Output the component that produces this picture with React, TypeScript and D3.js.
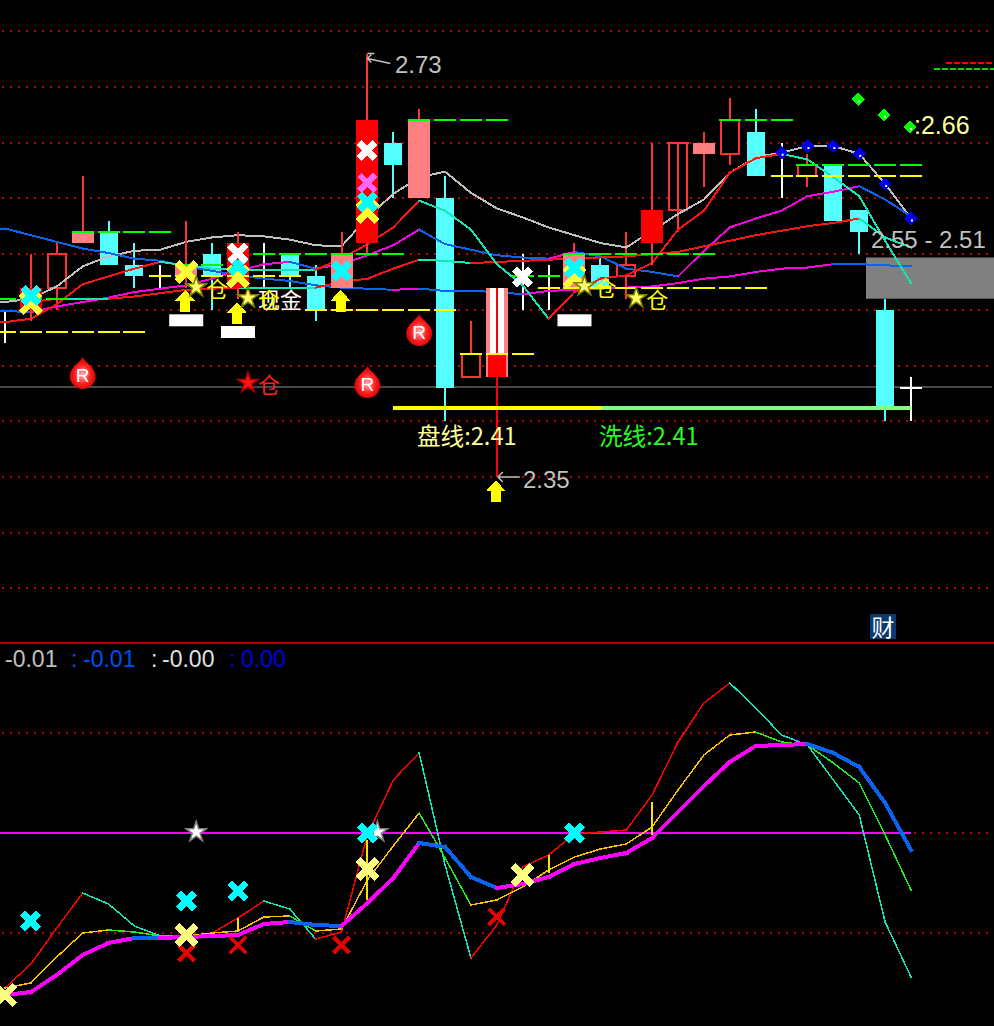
import * as d3 from "d3";

const width = 994;
const height = 1026;

// 上图: K线
const candleKinds = [
  "doji", "solid", "hollow", "pale", "cyan", "cyan", "doji", "pale", "cyan", "solid", "doji", "cyan",
  "cyan", "pale", "solid", "cyan", "pale", "cyan", "hollow", "pale", "doji", "doji", "pale", "cyan",
  "hollow", "solid", "hollow", "pale", "hollow", "cyan", "doji", "hollow", "cyan", "cyan", "cyan", "doji",
];
const candleTop = [
  2.48, 2.52, 2.55, 2.57, 2.57, 2.54, 2.53, 2.54, 2.55, 2.56, 2.53, 2.55,
  2.53, 2.55, 2.67, 2.65, 2.67, 2.6, 2.46, 2.52, 2.53, 2.52, 2.55, 2.54,
  2.54, 2.59, 2.65, 2.65, 2.67, 2.66, 2.62, 2.63, 2.63, 2.59, 2.5, 2.43,
];
const candleBottom = [
  2.48, 2.5, 2.52, 2.56, 2.54, 2.53, 2.53, 2.53, 2.53, 2.52, 2.53, 2.53,
  2.5, 2.52, 2.56, 2.63, 2.6, 2.43, 2.44, 2.44, 2.53, 2.52, 2.52, 2.52,
  2.53, 2.56, 2.59, 2.64, 2.64, 2.62, 2.62, 2.62, 2.58, 2.57, 2.41, 2.43,
];
const candleHigh = [
  2.5, 2.55, 2.56, 2.62, 2.58, 2.56, 2.54, 2.58, 2.56, 2.57, 2.56, 2.55,
  2.54, 2.57, 2.73, 2.66, 2.68, 2.62, 2.49, 2.52, 2.55, 2.54, 2.56, 2.55,
  2.57, 2.65, 2.65, 2.66, 2.69, 2.68, 2.65, 2.64, 2.63, 2.59, 2.51, 2.44,
];
const candleLow = [
  2.47, 2.49, 2.5, 2.56, 2.54, 2.52, 2.52, 2.52, 2.5, 2.51, 2.52, 2.52,
  2.49, 2.52, 2.55, 2.6, 2.6, 2.4, 2.44, 2.35, 2.5, 2.5, 2.52, 2.52,
  2.51, 2.54, 2.57, 2.61, 2.63, 2.62, 2.6, 2.61, 2.58, 2.55, 2.4, 2.4,
];

// 均线
const lineA = [
  2.507, 2.51, 2.521, 2.539, 2.548, 2.553, 2.554, 2.561, 2.565, 2.567, 2.566, 2.563,
  2.558, 2.557, 2.583, 2.604, 2.619, 2.624, 2.605, 2.591, 2.583, 2.574, 2.567, 2.56,
  2.556, 2.571, 2.586, 2.599, 2.623, 2.637, 2.641, 2.647, 2.647, 2.64, 2.613, 2.582,
];
const lineB = [
  2.489, 2.492, 2.505, 2.523, 2.53, 2.537, 2.543, 2.54, 2.537, 2.536, 2.536, 2.536,
  2.536, 2.546, 2.559, 2.574, 2.598, 2.589, 2.572, 2.541, 2.522, 2.492, 2.516, 2.528,
  2.531, 2.542, 2.572, 2.589, 2.623, 2.636, 2.64, 2.635, 2.619, 2.602, 2.562, 2.524,
];
const lineC: (number | null)[] = [
  null, 2.507, 2.51, 2.51, 2.51, 2.512, 2.515, 2.518, 2.519, 2.52, 2.52, 2.52,
  2.52, 2.525, 2.528, 2.537, 2.545, 2.544, 2.542, 2.543, 2.544, 2.545, 2.546, 2.547,
  2.548, 2.55, 2.552, 2.557, 2.562, 2.567, 2.571, 2.575, 2.578, 2.582, 2.565, 2.556,
];
const lineD = [
  2.573, 2.567, 2.561, 2.555, 2.551, 2.546, 2.544, 2.539, 2.535, 2.531, 2.528, 2.526,
  2.522, 2.52, 2.519, 2.518, 2.519, 2.517, 2.517, 2.516, 2.514, 2.517, 2.518, 2.519,
  2.52, 2.521, 2.524, 2.528, 2.53, 2.534, 2.537, 2.538, 2.541, 2.541, 2.54, 2.539,
];
const lineF = [
  2.499, 2.498, 2.503, 2.507, 2.511, 2.516, 2.519, 2.522, 2.528, 2.535, 2.541, 2.543,
  2.537, 2.541, 2.549, 2.558, 2.572, 2.559, 2.554, 2.549, 2.547, 2.546, 2.552, 2.548,
  2.537, 2.534, 2.53, 2.553, 2.574, 2.582, 2.589, 2.602, 2.606, 2.611, 2.599, 2.584,
];

// 压力/支撑虚线: [价位, 起, 止]
const greenLevels = [
  [2.51, 0, 2], [2.57, 3, 6], [2.54, 7, 8], [2.55, 10, 15], [2.67, 16, 19],
  [2.53, 20, 21], [2.55, 22, 27], [2.67, 28, 30], [2.63, 31, 35],
];
const yellowLevels = [
  [2.48, 0, 5], [2.53, 6, 11], [2.5, 12, 17], [2.46, 18, 20], [2.52, 21, 29], [2.62, 30, 35],
];

const priceTicks = [2.75, 2.7, 2.65, 2.6, 2.55, 2.5, 2.45, 2.4, 2.35, 2.3, 2.25];
const prevClose = 2.431;
const zoneTop = 2.547;
const zoneBottom = 2.51;
const basePrice = 2.412;

const xYellow = [[1, 2.506], [7, 2.534], [9, 2.53], [14, 2.588], [22, 2.5295]];
const xCyan = [[1, 2.513], [9, 2.54], [13, 2.535], [14, 2.597], [22, 2.5375]];
const xWhite = [[9, 2.551], [14, 2.643], [20, 2.5295]];
const xPink = [[14, 2.614]];
const upArrows = [[7, 2.518], [9, 2.507], [13, 2.518], [19, 2.347]];
const whiteBars = [[7, 2.496], [9, 2.4855], [22, 2.496]];
const yellowStars = [[7, 2.5205], [9, 2.5106], [22, 2.5214], [24, 2.5106]];
const drops = [[3, 2.4424], [14, 2.4344], [16, 2.481]];
const greenDots = [[33, 2.689], [34, 2.675], [35, 2.664]];
const blueDotStart = 30;

// 副图
const oscTicks = [0.01, -0.01];
const oscFast = [
  -0.0155, -0.0131, -0.0095, -0.006, -0.0071, -0.0093, -0.0103, -0.0103, -0.01, -0.0085, -0.0068, -0.0076,
  -0.0106, -0.0099, -0.0002, 0.0053, 0.008, -0.0032, -0.0125, -0.0092, -0.0034, -0.0022, -0.0001, 0.0001,
  0.0003, 0.0038, 0.0091, 0.013, 0.015, 0.0125, 0.0098, 0.0088, 0.0053, 0.0018, -0.0089, -0.0144,
];
const oscMid = [
  -0.0155, -0.015, -0.0124, -0.01, -0.0097, -0.0099, -0.0103, -0.0103, -0.01, -0.0098, -0.0084, -0.0083,
  -0.0098, -0.0096, -0.0047, -0.0013, 0.002, -0.0025, -0.0072, -0.0067, -0.0054, -0.0037, -0.0024, -0.0016,
  -0.0011, 0.0006, 0.0043, 0.0078, 0.0098, 0.0101, 0.0091, 0.0088, 0.007, 0.005, -0.0002, -0.0057,
];
const oscSlow = [
  -0.0162, -0.0159, -0.0142, -0.0122, -0.011, -0.0105, -0.0105, -0.0104, -0.0103, -0.0102, -0.0091, -0.0089,
  -0.0092, -0.0093, -0.007, -0.0045, -0.001, -0.0014, -0.0044, -0.0055, -0.0051, -0.0044, -0.0031, -0.0025,
  -0.002, -0.0005, 0.0021, 0.0047, 0.0071, 0.0087, 0.0088, 0.0089, 0.008, 0.0066, 0.003, -0.0017,
];
const oscXCyan = [[1, -0.0088], [7, -0.0068], [9, -0.0058], [14, 0], [22, 0]];
const oscXYellow = [[0, -0.0162], [7, -0.0102], [14, -0.0036], [20, -0.0042]];
const oscXRed = [[7, -0.012], [9, -0.0112], [13, -0.0112], [19, -0.0084]];
const oscStars = [[7, 0.0001], [14, 0.0001]];
const oscBars = [[9, -0.0085, -0.0098], [14, -0.0007, -0.0067], [21, -0.0022, -0.004], [25, 0.0031, -0.0002]];

const x = d3.scaleLinear().domain([0, 35]).range([5, 911]);
const y = d3.scaleLinear().domain([2.7, 2.35]).range([87, 477]);
const yOsc = d3.scaleLinear().domain([0.01, -0.01]).range([733, 933]);

const upperFont = "'Liberation Sans', Arial, sans-serif";
const cjkFont = "'Noto Sans CJK SC', sans-serif";
const crisp = "crispEdges";

const gridRed = "#b80000";
const teal = "#14e6b4";
const blue = "#0a64f0";
const magenta = "#ff00e6";
const red = "#ff1414";
const wickRed = "#ff3232";
const cyan = "#55ffff";
const pale = "#ff8080";

function Segments({ values, scale, up, down, w, stub = false }: {
  values: (number | null)[];
  scale: (v: number) => number;
  up: string;
  down: string;
  w: number;
  stub?: boolean;
}) {
  return (
    <g shapeRendering={crisp} strokeLinecap="square">
      {stub && values[0] != null ? (
        <line x1={0} x2={x(0)} y1={scale(values[0])} y2={scale(values[0])} stroke={down} strokeWidth={w} />
      ) : null}
      {d3.pairs(values).map(([a, b], i) =>
        a == null || b == null ? null : (
          <line key={i} x1={x(i)} x2={x(i + 1)} y1={scale(a)} y2={scale(b)}
            stroke={b > a ? up : down} strokeWidth={w} />
        ),
      )}
    </g>
  );
}

const bigCross = d3.symbol().type(d3.symbolTimes).size(240)() ?? "";
const smallCross = d3.symbol().type(d3.symbolTimes).size(170)() ?? "";
const starPath = d3.symbol().type(d3.symbolStar).size(130)() ?? "";
const dotPath = d3.symbol().type(d3.symbolSquare).size(90)() ?? "";

function Crosses({ points, scale, color, sw = 7, shape = bigCross }: {
  points: number[][];
  scale: (v: number) => number;
  color: string;
  sw?: number;
  shape?: string;
}) {
  return (
    <g shapeRendering={crisp}>
      {points.map(([i, v]) => (
        <path key={`${i}-${v}`} d={shape} transform={`translate(${x(i)},${scale(v)})`}
          fill="none" stroke={color} strokeWidth={sw} />
      ))}
    </g>
  );
}

function Dots({ points, color }: { points: [number, number][]; color: string }) {
  return (
    <g>
      {points.map(([px, py]) => (
        <g key={px} transform={`translate(${px},${py})`}>
          <path d={dotPath} transform="rotate(45)" fill={color} shapeRendering={crisp} />
          <rect x={0} y={1} width={2} height={2} fill="#fff" />
        </g>
      ))}
    </g>
  );
}

function Candle({ i }: { i: number }) {
  const kind = candleKinds[i];
  const cx = x(i);
  const top = y(candleTop[i]);
  const bottom = y(candleBottom[i]);
  const wick = kind === "cyan" ? cyan : kind === "doji" ? "#fff" : wickRed;
  const half = kind === "solid" || kind === "pale" ? 11 : 9;
  return (
    <g shapeRendering={crisp}>
      <line x1={cx} x2={cx} y1={y(candleHigh[i])} y2={y(candleLow[i])} stroke={wick} strokeWidth={2} />
      {kind === "doji" ? <line x1={cx - 11} x2={cx + 11} y1={top} y2={top} stroke="#fff" strokeWidth={2} /> : null}
      {kind === "hollow" ? (
        <>
          <rect x={cx - 9} y={top} width={18} height={bottom - top} fill="#000" stroke={wickRed} strokeWidth={2} />
          {i === 26 ? (
            <>
              <line x1={cx} x2={cx} y1={y(candleHigh[i])} y2={y(candleLow[i])} stroke={wickRed} strokeWidth={2} />
              <line x1={cx - 11} x2={cx + 11} y1={top} y2={top} stroke={wickRed} strokeWidth={2} />
            </>
          ) : null}
        </>
      ) : null}
      {kind === "cyan" || kind === "solid" || kind === "pale" ? (
        <rect x={cx - half} y={top} width={half * 2} height={bottom - top}
          fill={kind === "cyan" ? cyan : kind === "solid" ? "#ff0000" : pale} />
      ) : null}
    </g>
  );
}

function Levels({ rows, color }: { rows: number[][]; color: string }) {
  return (
    <g shapeRendering={crisp} stroke={color} strokeWidth={2}>
      {rows.flatMap(([level, from, to]) =>
        d3.range(from, to + 1).map((i) => (
          <line key={`${level}-${i}`} x1={x(i) - 11} x2={x(i) + 11} y1={y(level)} y2={y(level)} />
        )),
      )}
    </g>
  );
}

function Drop({ cx, cy }: { cx: number; cy: number }) {
  return (
    <g transform={`translate(${cx},${cy})`}>
      <path d="M0,-17 C3,-11 13,-6 13,2 A13,13 0 0 1 -13,2 C-13,-6 -3,-11 0,-17 Z" fill="url(#dropFill)" />
      <text x={0} y={8} textAnchor="middle" fontFamily={upperFont} fontSize={19} fill="#fff">R</text>
    </g>
  );
}

function Star({ px, py, fill, edge }: { px: number; py: number; fill: string; edge: string }) {
  return <path d={starPath} transform={`translate(${px},${py})`} fill={fill} stroke={edge} strokeWidth={1.5} />;
}

function Arrow({ px, top }: { px: number; top: number }) {
  return (
    <path d={`M${px},${top}L${px + 10},${top + 11}H${px + 5}V${top + 22}H${px - 5}V${top + 11}H${px - 10}Z`}
      fill="#ffff00" shapeRendering={crisp} />
  );
}

export default function App() {
  const indices = d3.range(candleKinds.length);
  const lateKinds = new Set(["solid", "pale"]);
  return (
    <svg width={width} height={height} viewBox={`0 0 ${width} ${height}`}
      style={{ position: "absolute", left: 0, top: 0, display: "block", background: "#000" }}>
      <defs>
        <radialGradient id="dropFill" cx="50%" cy="55%" r="55%">
          <stop offset="0%" stopColor="#ffb4b4" />
          <stop offset="55%" stopColor="#ff1e1e" />
          <stop offset="100%" stopColor="#c80000" />
        </radialGradient>
      </defs>
      <rect width={width} height={height} fill="#000" />

      {/* 网格 */}
      <g shapeRendering={crisp} stroke={gridRed} strokeWidth={2} strokeDasharray="2 6">
        {priceTicks.map((t) => <line key={t} x1={2} x2={990} y1={y(t)} y2={y(t)} />)}
        {oscTicks.map((t) => <line key={t} x1={2} x2={990} y1={yOsc(t)} y2={yOsc(t)} />)}
        <line x1={2} x2={990} y1={yOsc(0)} y2={yOsc(0)} />
      </g>
      <line x1={0} x2={992} y1={y(prevClose)} y2={y(prevClose)} stroke="#484848" strokeWidth={2} shapeRendering={crisp} />

      <rect x={866} y={y(zoneTop)} width={128} height={y(zoneBottom) - y(zoneTop)} fill="#808080" />

      {indices.filter((i) => !lateKinds.has(candleKinds[i])).map((i) => <Candle key={i} i={i} />)}

      <Segments values={lineA} scale={y} up="#c0c0c0" down="#c0c0c0" w={2} stub />
      <Segments values={lineD} scale={y} up={magenta} down={blue} w={2} stub />
      <Segments values={lineF} scale={y} up={magenta} down={blue} w={2} stub />
      <Segments values={lineC} scale={y} up={red} down={teal} w={2} />
      <Segments values={lineB} scale={y} up={red} down={red} w={2} stub />
      <Segments values={lineB} scale={y} up={red} down={teal} w={2} />

      {indices.filter((i) => lateKinds.has(candleKinds[i])).map((i) => <Candle key={i} i={i} />)}

      {/* 19号K线的叠加 */}
      <g shapeRendering={crisp}>
        <rect x={x(19) - 7} y={y(candleTop[19])} width={14} height={y(2.46) - y(candleTop[19])} fill="#fff" />
        <rect x={x(19) - 9} y={y(2.46)} width={18} height={y(candleBottom[19]) - y(2.46)} fill="#ff0000" />
        <line x1={x(19)} x2={x(19)} y1={y(candleTop[19])} y2={y(candleLow[19])} stroke="#ff0000" strokeWidth={2} />
      </g>

      <Levels rows={greenLevels} color="#00ff00" />
      <Levels rows={yellowLevels} color="#ffff00" />

      <g shapeRendering={crisp} strokeDasharray="6 2" strokeWidth={2}>
        <line x1={946} x2={994} y1={y(2.7215)} y2={y(2.7215)} stroke="#ff0000" />
        <line x1={934} x2={994} y1={y(2.716)} y2={y(2.716)} stroke="#00e000" />
      </g>

      {/* 底部长线 */}
      <g shapeRendering={crisp}>
        <line x1={393} x2={601} y1={y(basePrice)} y2={y(basePrice)} stroke="#ffff00" strokeWidth={4} />
        <line x1={601} x2={911} y1={y(basePrice)} y2={y(basePrice)} stroke="#80ff80" strokeWidth={4} />
      </g>

      {whiteBars.map(([i, v]) => (
        <rect key={i} x={x(i) - 17} y={y(v)} width={34} height={12} fill="#fff" />
      ))}
      {upArrows.map(([i, v]) => <Arrow key={i} px={x(i) - 1} top={y(v)} />)}

      <Crosses points={xYellow} scale={y} color="#ffff33" />
      <Crosses points={xCyan} scale={y} color="#00ffff" shape={smallCross} />
      <Crosses points={xWhite} scale={y} color="#ffffff" shape={smallCross} />
      <Crosses points={xPink} scale={y} color="#ff66ff" shape={smallCross} sw={6} />

      {/* 文字 + 星 */}
      <g fontFamily={cjkFont} fontSize={22}>
        <text x={258} y={308} fill="#fff">现金</text>
        {yellowStars.map(([i, v]) => (
          <g key={i}>
            <Star px={x(i) + 10} py={y(v)} fill="#ffff66" edge="#808000" />
            <text x={x(i) + 20} y={y(v) + 10} fill="#ffff00">仓</text>
          </g>
        ))}
        <Star px={x(9) + 10} py={y(prevClose) - 4} fill="#ff1414" edge="#b00000" />
        <text x={x(9) + 20} y={y(prevClose) + 6} fill="#ff2020">仓</text>
        <text x={417} y={445} fill="#ffff99" fontSize={23.6}>盘线:2.41</text>
        <text x={599} y={445} fill="#22ff22" fontSize={23.6}>洗线:2.41</text>
      </g>

      {drops.map(([i, v]) => <Drop key={i} cx={x(i)} cy={y(v)} />)}

      <Dots points={indices.slice(blueDotStart).map((i) => [x(i), y(lineA[i])] as [number, number])} color="#0000e6" />
      <Dots points={greenDots.map(([i, v]) => [x(i) - 1, y(v)] as [number, number])} color="#00ff00" />

      {/* 价格标注 */}
      <g fontFamily={upperFont} fontSize={24} fill="#c0c0c0">
        <text x={395} y={73}>2.73</text>
        <text x={523} y={488}>2.35</text>
        <text x={871} y={248}>2.55 - 2.51</text>
        <text x={914} y={134} fill="#ffff99" fontSize={25}>:2.66</text>
      </g>
      <g fill="none" stroke="#c0c0c0" strokeWidth={1.5}>
        <path d={`M${x(14)},${y(2.73)}h7M${x(14)},${y(2.73) + 5}L${x(14) + 23},${y(2.73) + 10}M${x(14)},${y(2.73) + 5}l4,-4M${x(14)},${y(2.73) + 5}l4,4`} />
        <path d={`M${x(19) + 1},${y(2.35)}h22M${x(19) + 1},${y(2.35)}l5,-5M${x(19) + 1},${y(2.35)}l5,5`} />
      </g>

      {/* 财 */}
      <rect x={870} y={614} width={26} height={25} fill="#0a3a70" />
      <text x={883} y={636} textAnchor="middle" fontFamily={cjkFont} fontSize={23} fill="#fff">财</text>

      {/* 副图 */}
      <line x1={0} x2={994} y1={643} y2={643} stroke="#b40000" strokeWidth={2} shapeRendering={crisp} />
      <g fontFamily={upperFont} fontSize={23}>
        <text x={5} y={667} fill="#c0c0c0">-0.01</text>
        <text x={71} y={667} fill="#0a50e6">:</text>
        <text x={83} y={667} fill="#0050f0">-0.01</text>
        <text x={151} y={667} fill="#e0e0e0">:</text>
        <text x={162} y={667} fill="#e0e0e0">-0.00</text>
        <text x={229} y={667} fill="#0000e6">:</text>
        <text x={241} y={667} fill="#0000e6">0.00</text>
      </g>

      <line x1={0} x2={x(35)} y1={yOsc(0)} y2={yOsc(0)} stroke="#ff00ff" strokeWidth={2} shapeRendering={crisp} />
      {oscStars.map(([i, v]) => (
        <Star key={i} px={x(i) + 10} py={yOsc(v)} fill="#ffffff" edge="#808080" />
      ))}

      <Segments values={oscFast} scale={yOsc} up="#ff0000" down={teal} w={1.5} />
      <Segments values={oscMid} scale={yOsc} up="#ffc000" down="#22ee22" w={1.5} />
      <Segments values={oscSlow} scale={yOsc} up="#ff00ff" down={blue} w={4} />

      <g shapeRendering={crisp}>
        {oscBars.map(([i, a, b]) => (
          <line key={i} x1={x(i)} x2={x(i)} y1={yOsc(a)} y2={yOsc(b)} stroke="#ffe000" strokeWidth={2} />
        ))}
      </g>

      <Crosses points={oscXRed} scale={yOsc} color="#e60000" sw={4} shape={smallCross} />
      <Crosses points={oscXCyan} scale={yOsc} color="#00ffff" shape={smallCross} />
      <Crosses points={oscXYellow} scale={yOsc} color="#ffff80" />
    </svg>
  );
}
